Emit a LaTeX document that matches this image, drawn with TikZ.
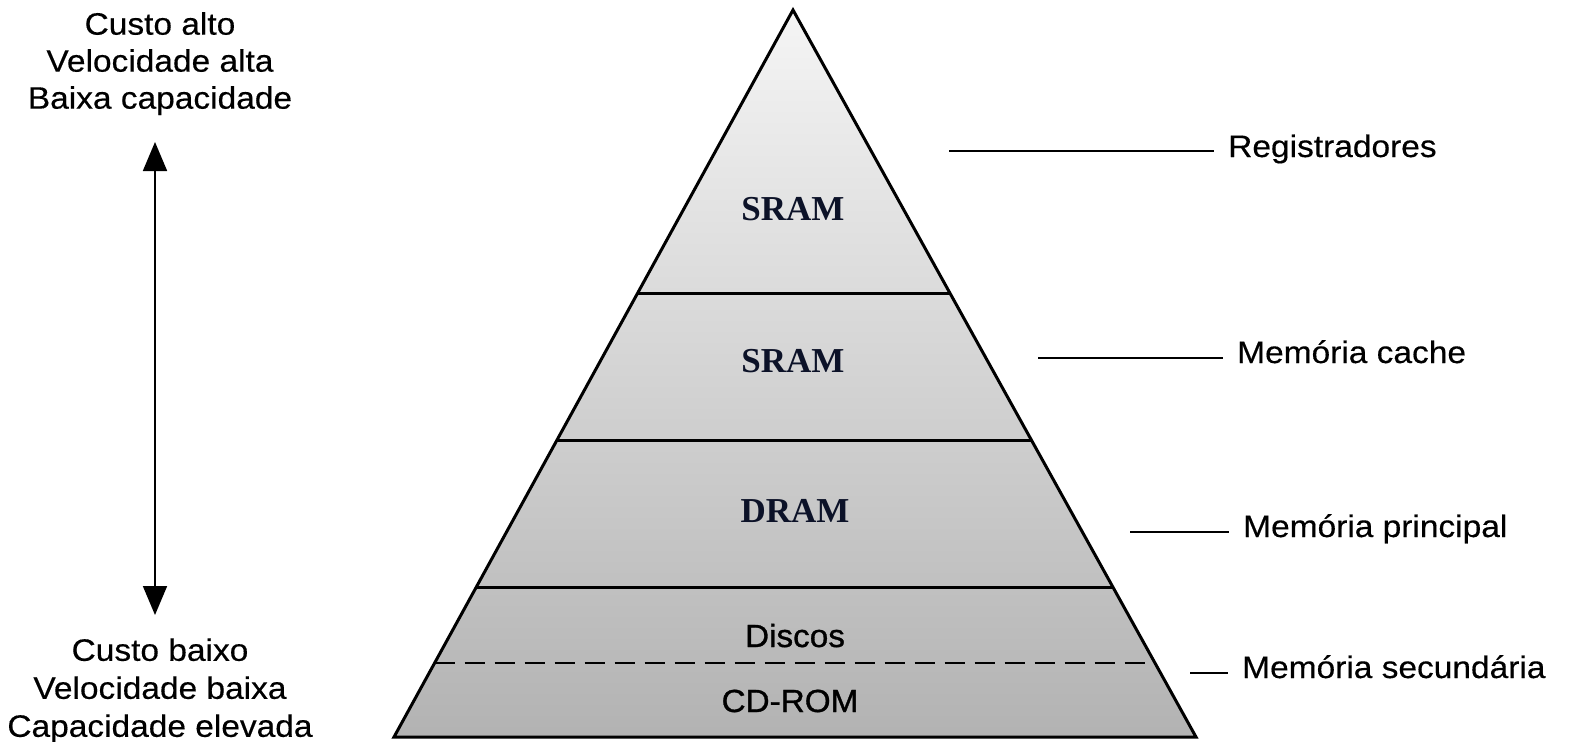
\documentclass[tikz,border=0pt]{standalone}
\usepackage{fontspec}
\setmainfont{Liberation Sans}
\newfontfamily\lblfont[FakeStretch=1.08,FakeBold=0.4]{Liberation Sans}
\newfontfamily\layerfont[FakeStretch=1.04,FakeBold=1.0]{Liberation Sans}
\newfontfamily\chipfont{Liberation Serif}
\usetikzlibrary{arrows.meta,calc}
\definecolor{chipink}{HTML}{0C1228}
\begin{document}
\begin{tikzpicture}[x=1pt,y=-1pt,
  lbl/.style={font=\lblfont\fontsize{31}{37}\selectfont, inner sep=0pt},
  chip/.style={font=\chipfont\bfseries\fontsize{35}{40}\selectfont, text=chipink, inner sep=0pt},
  layer/.style={font=\layerfont\fontsize{32}{38}\selectfont, inner sep=0pt},
  edge/.style={line width=3pt},
  tick/.style={line width=1.8pt, shorten >=14pt},
]
\useasboundingbox (0,0) rectangle (1570,741);
% pyramid
\coordinate (A) at (793,10);
\coordinate (BL) at (394,737);
\coordinate (BR) at (1196,737);
\shade[top color=black!4, bottom color=black!30] (A) -- (BR) -- (BL) -- cycle;
\coordinate (L1) at ($(A)!0.3893!(BL)$);
\coordinate (R1) at ($(A)!0.3893!(BR)$);
\coordinate (L2) at ($(A)!0.5928!(BL)$);
\coordinate (R2) at ($(A)!0.5928!(BR)$);
\coordinate (L3) at ($(A)!0.7950!(BL)$);
\coordinate (R3) at ($(A)!0.7950!(BR)$);
\coordinate (L4) at ($(A)!0.8982!(BL)$);
\coordinate (R4) at ($(A)!0.8982!(BR)$);
\draw[edge] (L1) -- (R1);
\draw[edge] (L2) -- (R2);
\draw[edge] (L3) -- (R3);
\draw[line width=2.6pt, dash pattern=on 20pt off 10pt] (L4) -- (R4);
\draw[edge, line join=miter] (A) -- (BR) -- (BL) -- cycle;
% layer labels
\node[chip, anchor=base] (sram1) at (793,220) {SRAM};
\node[chip, anchor=base] (sram2) at (793,372) {SRAM};
\node[chip, anchor=base] (dram) at (795,522) {DRAM};
\node[layer, anchor=base] (discos) at (795,647) {Discos};
\node[layer, anchor=base] (cdrom) at (790,712) {CD-ROM};
% right labels
\node[lbl, anchor=base west] (reg) at (1228,157) {Registradores};
\node[lbl, anchor=base west] (cache) at (1237,363) {Memória cache};
\node[lbl, anchor=base west] (princ) at (1243,537) {Memória principal};
\node[lbl, anchor=base west] (sec) at (1242,678) {Memória secundária};
\coordinate (t1) at (949,151);
\coordinate (t2) at (1038,358);
\coordinate (t3) at (1130,532);
\coordinate (t4) at (1190,673);
\draw[tick] (t1) -- (t1 -| reg.west);
\draw[tick] (t2) -- (t2 -| cache.west);
\draw[tick] (t3) -- (t3 -| princ.west);
\draw[tick] (t4) -- (t4 -| sec.west);
% left side
\node[lbl, anchor=north, align=center] (hi) at (160,12) {Custo alto\\Velocidade alta\\Baixa capacidade};
\node[lbl, anchor=south, align=center, text depth=0pt] (lo) at (160,737) {Custo baixo\\[1pt]Velocidade baixa\\[1pt]Capacidade elevada};
\coordinate (up) at (155,142);
\coordinate (down) at (155,615);
\draw[line width=1.8pt, {Triangle[length=29pt,width=24pt]}-{Triangle[length=29pt,width=24pt]}] (up) -- (down);
\end{tikzpicture}
\end{document}
